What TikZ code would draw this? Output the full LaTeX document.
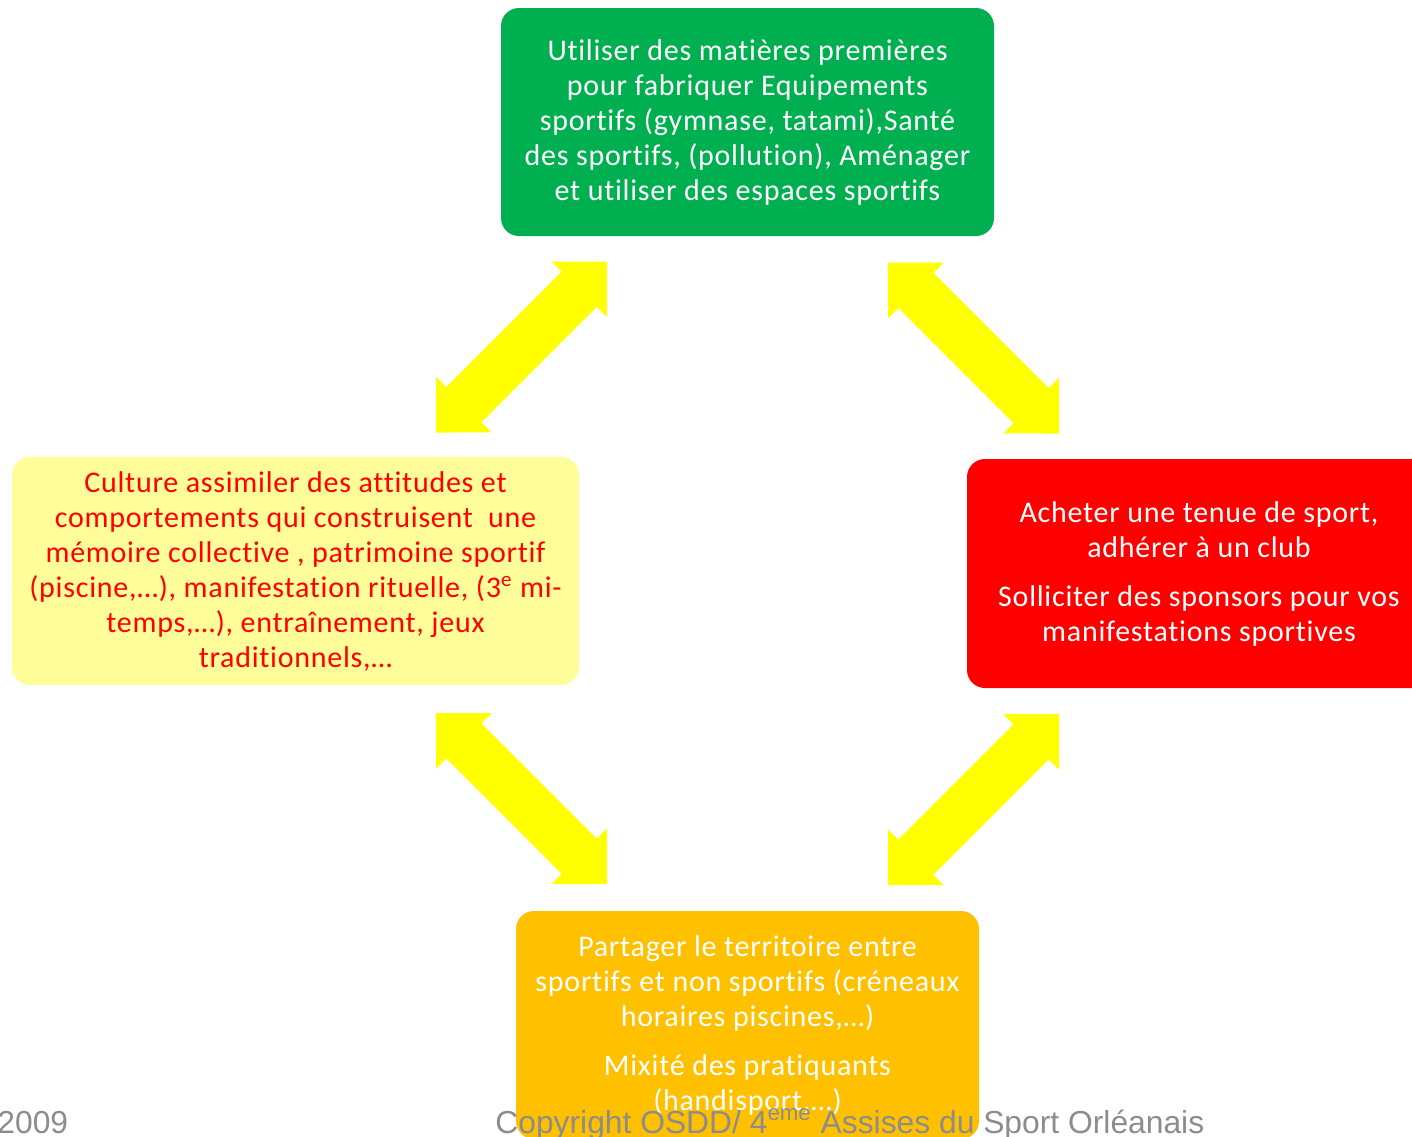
\documentclass[tikz,border=0pt]{standalone}
\usepackage{fontspec}
\setmainfont{Carlito}[LetterSpace=2.5,Ligatures=NoCommon]
\newfontfamily\footfont{Liberation Sans}
\usepackage{tikz}
\usetikzlibrary{positioning}
\usetikzlibrary{shapes,shapes.arrows}
\definecolor{boxgreen}{RGB}{0,176,80}
\definecolor{boxyellow}{RGB}{255,253,153}
\definecolor{boxorange}{RGB}{255,192,0}
\definecolor{arrowyellow}{RGB}{255,255,0}
\definecolor{footgray}{RGB}{140,140,140}
\tikzstyle{box}=[rectangle,rounded corners=9pt,inner sep=0pt,align=center,font=\fontsize{15}{17.5}\selectfont]
\tikzstyle{dblarrow}=[double arrow,fill=arrowyellow,inner xsep=0pt,inner ysep=12.25pt,minimum height=120.9pt,minimum width=39pt,double arrow head extend=7.25pt,double arrow tip angle=90]
\tikzstyle{foot}=[font=\footfont\fontsize{15.9}{18}\selectfont,text=footgray,anchor=base west,inner sep=0pt]

\begin{document}
\begin{tikzpicture}[x=0.5pt,y=-0.5pt]
    \useasboundingbox (0,0) rectangle (1412,1136);
    % First we draw the four boxes
    \node[box,fill=boxgreen,text=white,minimum width=246.5pt,minimum height=114pt] (matieres) at (747.5,122)
        {Utiliser des matières premières\\pour fabriquer Equipements\\sportifs (gymnase, tatami),Santé\\des sportifs, (pollution), Aménager\\et utiliser des espaces sportifs};
    \node[box,fill=boxyellow,text=red,minimum width=283.5pt,minimum height=114pt] (culture) at (295.5,571)
        {Culture assimiler des attitudes et\\comportements qui construisent\ \ une\\mémoire collective , patrimoine sportif\\(piscine,…), manifestation rituelle, (3\textsuperscript{e} mi-\\temps,…), entraînement, jeux\\traditionnels,…};
    \node[box,fill=red,text=white,minimum width=232pt,minimum height=114.5pt] (acheter) at (1199,573.5)
        {Acheter une tenue de sport,\\adhérer à un club\\[7pt]Solliciter des sponsors pour vos\\manifestations sportives};
    \node[box,fill=boxorange,text=white,minimum width=231.5pt,minimum height=114pt] (partager) at (747.5,1025)
        {Partager le territoire entre\\sportifs et non sportifs (créneaux\\horaires piscines,…)\\[7pt]Mixité des pratiquants\\(handisport,…)};
    % Then the yellow double arrows between them
    \foreach \pos/\name/\angle in {{(521.5,347)/matcul/45}, {(973.5,348)/matach/-45}, {(521.5,798.5)/culpar/-45}, {(973.5,799.5)/achpar/45}}
        \node[dblarrow,rotate=\angle] (\name) at \pos {};
    % Footer
    \node[foot] (annee) at (-3,1133) {2009};
    \node[foot] (copyright) at (495,1133) {Copyright OSDD/ 4\textsuperscript{eme} Assises du Sport Orléanais};
\end{tikzpicture}
\end{document}
